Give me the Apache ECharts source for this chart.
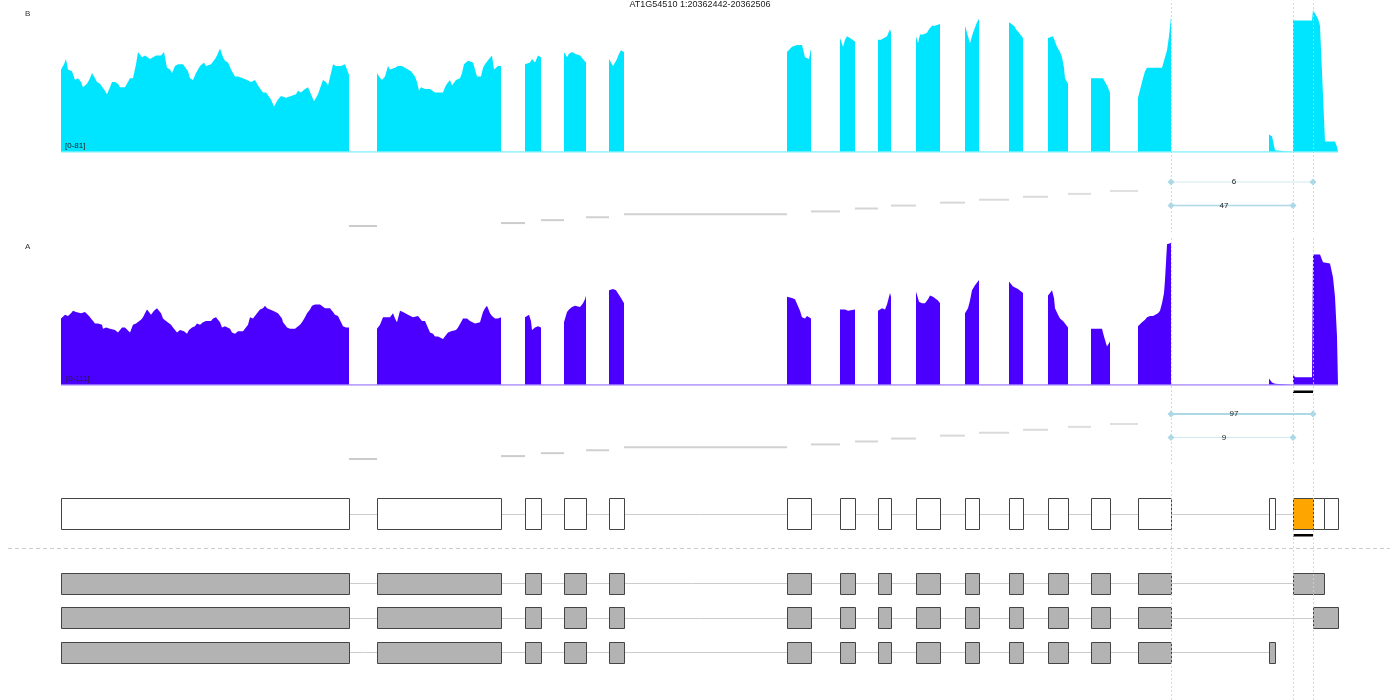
<!DOCTYPE html>
<html><head><meta charset="utf-8">
<script src="https://cdn.jsdelivr.net/npm/echarts@6/dist/echarts.min.js"></script>
<style>html,body{margin:0;padding:0;background:#fff}#c{width:1400px;height:700px}</style>
</head><body><div id="c"></div>
<script>
// ---------------- DATA ----------------
const chartTitle = 'AT1G54510 1:20362442-20362506';
const trackNames = ['B', 'A'];
const trackRanges = ['[0-81]', '[0-111]'];
const trackMax = [81, 111];
// positions are in bins (~3.2 bp each) from the start of the plotted region
const regionEnd = 1277;
const geneExons = [[0,288],[316,440],[464,480],[503,525],[548,563],[726,750],[779,794],[817,830],[855,879],[904,918],[948,962],[987,1007],[1030,1049],[1077,1110],[1208,1214],[1232,1252],[1252,1263],[1263,1277]];
const highlightExon = [1232, 1252];
const sharedExonCount = 14;
const transcriptLastExons = [[1232,1263],[1252,1277],[1208,1214]];
const junctionsB = [[1110,1252,6],[1110,1232,47]];
const junctionsA = [[1110,1252,97],[1110,1232,9]];
const markerPositions = [1110, 1232, 1252];

const covB = [
 [[0,47],[3,50],[5,53],[7,47],[9,48],[11,46],[14,41],[17,42],[20,40],[22,37],[26,39],[29,42],[31,45],[34,42],[36,40],[39,39],[41,38],[44,35],[46,33],[49,37],[51,40],[54,40],[57,39],[59,37],[61,36],[64,37],[66,36],[69,42],[72,42],[75,50],[77,57],[79,56],[81,54],[84,55],[86,54],[89,53],[92,54],[95,55],[97,54],[100,55],[103,57],[106,48],[109,47],[111,45],[114,49],[117,50],[119,51],[122,50],[124,49],[127,46],[129,42],[132,41],[135,45],[139,49],[141,49],[143,51],[145,49],[147,48],[150,50],[152,51],[154,53],[156,55],[159,59],[162,54],[164,52],[167,51],[170,47],[174,43],[177,43],[179,42],[182,42],[186,41],[190,40],[194,41],[197,38],[199,37],[202,34],[205,34],[207,33],[210,30],[213,26],[215,28],[217,30],[220,32],[222,33],[225,31],[227,30],[230,32],[232,31],[235,33],[237,35],[240,34],[244,36],[247,37],[250,33],[253,29],[255,31],[257,33],[260,38],[262,41],[265,40],[267,38],[270,45],[272,50],[275,49],[277,49],[280,49],[284,50],[286,47],[288,44]],
 [[316,45],[318,43],[321,41],[324,43],[327,49],[329,47],[331,46],[334,48],[337,49],[339,50],[341,49],[344,48],[347,47],[350,46],[352,45],[354,43],[356,40],[358,35],[360,37],[362,38],[364,36],[366,37],[369,36],[371,35],[374,34],[378,34],[382,34],[384,37],[386,39],[389,41],[391,38],[393,38],[395,41],[397,40],[399,42],[401,45],[403,50],[404,51],[407,52],[409,51],[412,51],[414,50],[416,43],[418,43],[420,43],[422,48],[424,50],[426,51],[428,53],[431,55],[433,47],[435,48],[437,49],[440,49]],
 [[464,50],[466,51],[469,51],[471,53],[474,51],[477,55],[480,54]],
 [[503,57],[506,54],[508,56],[511,57],[514,56],[516,57],[519,55],[521,54],[525,51]],
 [[548,53],[550,51],[552,49],[554,51],[556,53],[558,56],[560,58],[563,57]],
 [[726,57],[728,58],[731,60],[736,61],[741,61],[744,54],[746,53],[748,53],[750,59]],
 [[779,65],[782,60],[784,64],[786,66],[789,65],[791,64],[794,63]],
 [[817,64],[820,64],[822,65],[826,66],[829,70],[830,68]],
 [[855,66],[857,62],[859,67],[862,67],[866,68],[868,70],[871,72],[874,72],[879,73]],
 [[904,72],[907,66],[909,62],[912,68],[914,71],[916,74],[918,76]],
 [[948,74],[950,75],[953,72],[955,70],[958,68],[962,65]],
 [[987,65],[989,64],[992,66],[994,66],[996,60],[999,57],[1001,54],[1003,48],[1004,42],[1007,39]],
 [[1030,42],[1042,42],[1044,41],[1046,38],[1049,34]],
 [[1077,31],[1079,32],[1082,42],[1084,46],[1086,48],[1101,48],[1104,54],[1106,58],[1108,66],[1110,77]],
 [[1208,10],[1211,9],[1214,1]],
 [[1232,75],[1251,75],[1252,81],[1255,78],[1257,76],[1259,72],[1264,6],[1274,6],[1276,3],[1277,0]]
];
const covA = [
 [[0,52],[2,53],[4,55],[7,54],[10,56],[12,58],[15,57],[17,57],[20,56],[22,56],[24,57],[26,56],[28,54],[30,52],[32,50],[34,48],[37,48],[39,49],[41,47],[42,44],[45,45],[47,45],[49,44],[51,45],[54,43],[57,41],[59,43],[61,45],[64,45],[66,44],[69,41],[72,47],[75,48],[77,49],[80,51],[82,53],[84,56],[86,59],[88,57],[90,55],[93,58],[96,60],[98,60],[100,56],[102,52],[105,50],[107,49],[110,47],[112,45],[114,43],[116,41],[119,43],[121,44],[123,42],[126,40],[128,43],[131,45],[134,46],[136,48],[139,47],[142,49],[145,50],[147,51],[150,50],[152,52],[155,53],[157,52],[159,49],[161,45],[164,46],[166,45],[169,44],[171,41],[174,40],[177,42],[179,43],[182,42],[184,41],[187,47],[189,53],[192,52],[194,52],[196,56],[199,59],[202,60],[204,62],[206,60],[209,59],[212,58],[214,57],[217,56],[219,55],[221,52],[222,49],[224,47],[226,45],[229,44],[231,43],[234,44],[236,45],[239,47],[241,49],[244,53],[246,56],[249,59],[251,62],[254,63],[256,64],[259,63],[261,62],[264,60],[266,59],[269,60],[272,57],[274,55],[277,54],[279,53],[282,46],[285,45],[288,45]],
 [[316,44],[319,47],[322,53],[325,53],[329,53],[332,56],[334,52],[336,49],[339,58],[342,57],[344,57],[347,55],[349,54],[352,53],[354,52],[357,54],[359,52],[361,50],[364,50],[366,49],[369,41],[372,40],[374,38],[377,38],[379,38],[382,36],[385,39],[387,41],[390,42],[392,41],[395,43],[397,45],[400,49],[402,52],[404,53],[406,52],[409,50],[411,49],[414,48],[416,47],[419,49],[422,57],[424,60],[426,62],[429,56],[431,54],[434,52],[437,52],[439,53],[440,53]],
 [[464,53],[466,54],[468,55],[470,50],[471,43],[474,45],[477,46],[480,45]],
 [[503,49],[506,57],[508,59],[511,61],[514,62],[516,63],[519,61],[522,64],[524,67],[525,70]],
 [[548,74],[550,74],[552,75],[555,74],[557,74],[560,68],[563,64]],
 [[726,69],[728,68],[731,68],[734,67],[736,66],[739,58],[741,53],[744,52],[746,54],[748,55],[750,52]],
 [[779,59],[781,58],[784,59],[787,58],[789,59],[794,59]],
 [[817,58],[819,59],[821,60],[824,59],[826,63],[829,72],[830,69]],
 [[855,73],[858,65],[861,64],[864,64],[867,67],[869,70],[872,69],[874,68],[877,66],[879,64]],
 [[904,56],[907,60],[909,66],[911,74],[914,78],[918,82]],
 [[948,81],[950,80],[952,77],[957,75],[962,72]],
 [[987,70],[989,72],[991,74],[993,68],[994,60],[997,55],[999,52],[1002,50],[1004,48],[1007,45]],
 [[1030,44],[1041,44],[1043,38],[1046,30],[1047,29],[1049,34]],
 [[1077,46],[1079,47],[1081,49],[1084,51],[1086,53],[1089,54],[1092,54],[1097,56],[1099,58],[1101,64],[1103,72],[1104,82],[1105,96],[1106,110],[1110,111]],
 [[1208,5],[1211,2],[1214,1]],
 [[1232,9],[1234,6],[1251,6],[1252,102],[1259,102],[1262,96],[1269,95],[1272,84],[1274,69],[1276,38],[1277,0]]
];

// ---------------- LAYOUT / STYLE ----------------
const FONT = '"Liberation Sans", Arial, sans-serif';
const COL_B = '#00E5FF', COL_B_LINE = '#80F0FF';
const COL_A = '#4B00FF', COL_A_LINE = '#A585FF';
const GRID_L = 61, GRID_R = 62;
const covTop = [10, 243], covH = 142;
const junctionPanels = [
  {junctions: junctionsB, introBase: 226, arcTop: 182},
  {junctions: junctionsA, introBase: 459, arcTop: 414}
];
const geneRow = {top: 498, h: 31};
const transcriptRows = [583, 617.5, 652];
const txH = 20.5;

function covPoints(segs){
  const pts = [];
  segs.forEach(s => {
    pts.push([s[0][0], 0]);
    s.forEach(p => pts.push(p));
    pts.push([s[s.length-1][0], 0]);
  });
  return pts;
}

function renderOverlay(params, api){
  const X = v => api.coord([v, 0])[0];
  const C = v => Math.round(v) + 0.5;
  const ch = [];
  const intronStyle = {stroke: '#cccccc', lineWidth: 1};
  const shared = geneExons.slice(0, sharedExonCount);

  junctionPanels.forEach(panel => {
    for (let i = 0; i < sharedExonCount - 1; i++){
      const y = panel.introBase - i * 2.92;
      const op = 0.95 - i * 0.03;
      ch.push({type:'line', shape:{x1:X(shared[i][1]), y1:y, x2:X(shared[i+1][0]), y2:y},
        style:{stroke:'#c8c8c8', lineWidth:2, opacity:op}});
    }
    panel.junctions.forEach((j, k) => {
      const y = panel.arcTop + k * 23.5;
      const x1 = X(j[0]), x2 = X(j[1]);
      const w = 1 + j[2] / 97;
      const op = 0.45 + 0.55 * Math.min(1, j[2] / 47);
      ch.push({type:'line', shape:{x1:x1, y1:y, x2:x2, y2:y}, style:{stroke:'#add8e6', lineWidth:w, opacity:op}});
      [x1, x2].forEach(x => ch.push({type:'polygon', shape:{points:[[x, y-3.5],[x+3.5, y],[x, y+3.5],[x-3.5, y]]},
        style:{fill:'#add8e6'}}));
      ch.push({type:'text', x:(x1 + x2) / 2 - 8, y:y,
        style:{text:String(j[2]), fill:'#222', font:'8px ' + FONT, align:'center', verticalAlign:'middle', textAlign:'center', textVerticalAlign:'middle'}});
    });
  });

  const gy = geneRow.top + geneRow.h / 2;
  ch.push({type:'line', shape:{x1:X(0), y1:C(gy), x2:X(regionEnd), y2:C(gy)}, style:intronStyle});
  geneExons.forEach(e => {
    const hl = e[0] === highlightExon[0] && e[1] === highlightExon[1];
    const x0 = C(X(e[0])), x1 = C(X(e[1]));
    ch.push({type:'rect', shape:{x:x0, y:C(geneRow.top), width:x1 - x0, height:geneRow.h},
      style:{fill: hl ? '#FFA500' : '#ffffff', stroke:'#444444', lineWidth:1}});
  });
  ch.push({type:'rect', shape:{x:X(highlightExon[0]), y:534, width:X(highlightExon[1]) - X(highlightExon[0]), height:2.5}, style:{fill:'#000'}});
  ch.push({type:'rect', shape:{x:X(highlightExon[0]), y:390.5, width:X(highlightExon[1]) - X(highlightExon[0]), height:2.5}, style:{fill:'#000'}});

  transcriptRows.forEach((cy, t) => {
    const exons = shared.concat([transcriptLastExons[t]]);
    const xs = exons.map(e => e[0]), xe = exons.map(e => e[1]);
    ch.push({type:'line', shape:{x1:X(Math.min.apply(null, xs)), y1:C(cy), x2:X(Math.max.apply(null, xe)), y2:C(cy)}, style:intronStyle});
    exons.forEach(e => {
      const x0 = C(X(e[0])), x1 = C(X(e[1]));
      ch.push({type:'rect', shape:{x:x0, y:C(cy - txH / 2), width:x1 - x0, height:Math.round(txH)},
        style:{fill:'#b3b3b3', stroke:'#444444', lineWidth:1}});
    });
  });

  markerPositions.forEach(p => {
    const x = C(X(p));
    ch.push({type:'line', shape:{x1:x, y1:3, x2:x, y2:232}, style:{stroke:'#add8e6', lineWidth:1, lineDash:[2,2], opacity:0.8}});
    ch.push({type:'line', shape:{x1:x, y1:238, x2:x, y2:466}, style:{stroke:'#add8e6', lineWidth:1, lineDash:[2,2], opacity:0.8}});
    ch.push({type:'line', shape:{x1:x, y1:470, x2:x, y2:700}, style:{stroke:'#a8eea8', lineWidth:1, lineDash:[2,2], opacity:0.8}});
  });
  return {type:'group', children:ch};
}

const chart = echarts.init(document.getElementById('c'));
const xAx = gi => ({type:'value', gridIndex:gi, min:0, max:regionEnd, show:false});
chart.setOption({
  animation: false,
  backgroundColor: '#ffffff',
  grid: [
    {left:GRID_L, right:GRID_R, top:covTop[0], height:covH},
    {left:GRID_L, right:GRID_R, top:covTop[1], height:covH},
    {left:GRID_L, right:GRID_R, top:0, height:700}
  ],
  xAxis: [xAx(0), xAx(1), xAx(2)],
  yAxis: [
    {type:'value', gridIndex:0, min:0, max:trackMax[0], show:false},
    {type:'value', gridIndex:1, min:0, max:trackMax[1], show:false},
    {type:'value', gridIndex:2, min:0, max:1, show:false}
  ],
  graphic: [
    {type:'text', z:100, left:'center', top:0, style:{text:chartTitle, font:'9px ' + FONT, fill:'#222'}},
    {type:'text', z:100, left:25, top:10, style:{text:trackNames[0], font:'8px ' + FONT, fill:'#333'}},
    {type:'text', z:100, left:25, top:243, style:{text:trackNames[1], font:'8px ' + FONT, fill:'#333'}},
    {type:'text', z:100, left:65, top:142, style:{text:trackRanges[0], font:'8px ' + FONT, fill:'#222'}},
    {type:'text', z:100, left:66, top:375, style:{text:trackRanges[1], font:'8px ' + FONT, fill:'#222'}},
    {type:'line', z:100, shape:{x1:8, y1:548.5, x2:1390, y2:548.5}, style:{stroke:'#cccccc', lineWidth:1, lineDash:[4,3]}}
  ],
  series: [
    {type:'line', xAxisIndex:0, yAxisIndex:0, data:[[0,0],[regionEnd,0]], symbol:'none', silent:true, lineStyle:{color:COL_B_LINE, width:1.5}},
    {type:'line', xAxisIndex:0, yAxisIndex:0, data:covPoints(covB), symbol:'none', silent:true, lineStyle:{opacity:0}, areaStyle:{color:COL_B, opacity:1}},
    {type:'line', xAxisIndex:1, yAxisIndex:1, data:[[0,0],[regionEnd,0]], symbol:'none', silent:true, lineStyle:{color:COL_A_LINE, width:1.5}},
    {type:'line', xAxisIndex:1, yAxisIndex:1, data:covPoints(covA), symbol:'none', silent:true, lineStyle:{opacity:0}, areaStyle:{color:COL_A, opacity:1}},
    {type:'custom', xAxisIndex:2, yAxisIndex:2, data:[[0,0]], silent:true, z:10, renderItem:renderOverlay}
  ]
});
</script></body></html>
